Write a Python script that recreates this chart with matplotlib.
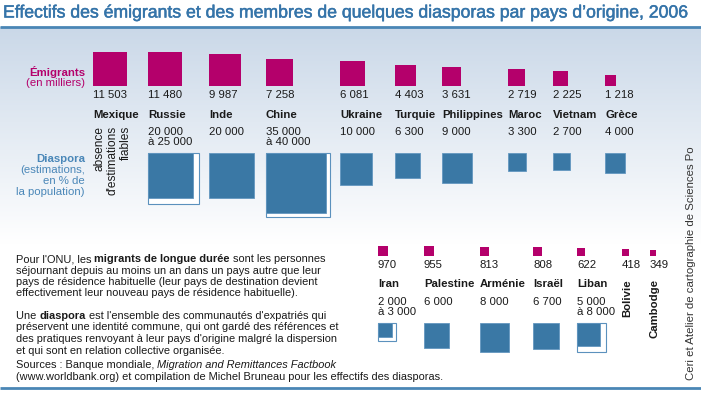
import numpy as np
import matplotlib
matplotlib.use("Agg")
import matplotlib.pyplot as plt
import matplotlib.patheffects as pe
from matplotlib.patches import Rectangle

plt.rcParams['font.family'] = ['Liberation Sans', 'DejaVu Sans']

# ---- data (thousands of people) ----
countries_top = ['Mexique', 'Russie', 'Inde', 'Chine', 'Ukraine', 'Turquie',
                 'Philippines', 'Maroc', 'Vietnam', 'Grèce']
emigrants_top = [11503, 11480, 9987, 7258, 6081, 4403, 3631, 2719, 2225, 1218]
diaspora_low_top = [None, 20000, 20000, 35000, 10000, 6300, 9000, 3300, 2700, 4000]
diaspora_high_top = [None, 25000, None, 40000, None, None, None, None, None, None]

countries_bottom = ['Iran', 'Palestine', 'Arménie', 'Israël', 'Liban', 'Bolivie', 'Cambodge']
emigrants_bottom = [970, 955, 813, 808, 622, 418, 349]
diaspora_low_bottom = [2000, 6000, 8000, 6700, 5000, None, None]
diaspora_high_bottom = [3000, None, None, None, 8000, None, None]

# ---- layout (pixels) ----
W, H = 701, 396
x_top = [93, 148, 209, 266, 340, 395, 442, 508, 553, 605]
x_bottom = [378, 424, 480, 533, 577, 622, 650]
K = 0.32  # px per sqrt(thousand)

MAGENTA = '#b4006b'
BLUE = '#3a78a5'
TITLE_BLUE = '#3574a9'
LABEL_BLUE = '#4a87b8'
TXT = '#1a1a1a'
FS = 8.2      # pt, labels
FS_BODY = 7.9


def fmt(v):
    return f"{v:,}".replace(',', ' ')


def side(v):
    return K * np.sqrt(v)


fig = plt.figure(figsize=(W / 100, H / 100), dpi=100)
ax = fig.add_axes([0, 0, 1, 1])
ax.set_xlim(0, W)
ax.set_ylim(H, 0)
ax.axis('off')

# background gradient
grad = np.linspace(0, 1, 200)[:, None]
top_c = np.array([0.792, 0.847, 0.910])
img = top_c[None, None, :] * (1 - grad[:, :, None]) + np.ones(3)[None, None, :] * grad[:, :, None]
ax.imshow(img, extent=(0, W, 245, 27), aspect='auto', zorder=0)

ax.text(3, 13, "Effectifs des émigrants et des membres de quelques diasporas par pays d\u2019origine, 2006",
        fontsize=12.7, color=TITLE_BLUE, va='center', ha='left',
        path_effects=[pe.withStroke(linewidth=0.35, foreground=TITLE_BLUE)])
ax.plot([0, W], [27, 27], color='#4a86b5', lw=2, solid_capstyle='butt')
ax.plot([0, W], [388, 388], color='#4a86b5', lw=2, solid_capstyle='butt')

# left labels
ax.text(85, 72, "Émigrants", color=MAGENTA, fontsize=FS, fontweight='bold', ha='right', va='center')
ax.text(85, 83, "(en milliers)", color=MAGENTA, fontsize=FS, ha='right', va='center')
for i, s in enumerate(["Diaspora", "(estimations,", "en % de", "la population)"]):
    ax.text(85, 159 + 11 * i, s, color=LABEL_BLUE, fontsize=FS,
            fontweight='bold' if i == 0 else 'normal', ha='right', va='center')


def draw_row(xs, names, emig, low, high, base_em, y_num, y_name, y_dia, y_sq, rotated_names=()):
    for x, name, e, lo, hi in zip(xs, names, emig, low, high):
        s = side(e)
        ax.add_patch(Rectangle((x, base_em - s), s, s, facecolor=MAGENTA, edgecolor='none'))
        ax.text(x, y_num, fmt(e), fontsize=FS, color=TXT, ha='left', va='center')
        if name in rotated_names:
            ax.text(x + 5, y_name - 5, name, fontsize=FS, fontweight='bold', color=TXT,
                    rotation=90, ha='center', va='top')
            continue
        ax.text(x, y_name, name, fontsize=FS, fontweight='bold', color=TXT, ha='left', va='center')
        if lo is None:
            continue
        label = fmt(lo) if hi is None else f"{fmt(lo)}\nà {fmt(hi)}"
        ax.text(x, y_dia, label, fontsize=FS, color=TXT, ha='left', va='top', linespacing=1.0)
        if hi is not None:
            sh = side(hi)
            ax.add_patch(Rectangle((x, y_sq), sh, sh, facecolor='white', edgecolor='#5b91bd', lw=0.8))
        sl = side(lo)
        ax.add_patch(Rectangle((x, y_sq), sl, sl, facecolor=BLUE, edgecolor='#6397c0', lw=0.6))


draw_row(x_top, countries_top, emigrants_top, diaspora_low_top, diaspora_high_top,
         86, 95, 115, 127, 153)
draw_row(x_bottom, countries_bottom, emigrants_bottom, diaspora_low_bottom, diaspora_high_bottom,
         256, 265, 284, 297, 323, rotated_names=('Bolivie', 'Cambodge'))

ax.text(112.5, 126, "absence\nd'estimations\nfiables", fontsize=8.6, color=TXT, rotation=90,
        ha='center', va='top', multialignment='right', linespacing=1.1)

ax.text(691, 380, "Ceri et Atelier de cartographie de Sciences Po", fontsize=8.2, color='#333333',
        rotation=90, ha='center', va='bottom')

# ---- body text with inline bold / italic runs ----
renderer = fig.canvas.get_renderer()


def advance(s, **kw):
    # advance width of s (spaces included), measured between two guard glyphs
    def w(txt):
        t = ax.text(0, 0, txt, fontsize=FS_BODY, **kw)
        out = t.get_window_extent(renderer).width
        t.remove()
        return out
    return w("x" + s + "x") - w("xx")


def draw_runs(x, y, runs):
    for s, kw in runs:
        ax.text(x, y, s, fontsize=FS_BODY, color=TXT, ha='left', va='baseline', **kw)
        x += advance(s, **kw)


N = {}
B = {'fontweight': 'bold'}
I = {'fontstyle': 'italic'}
body_lines = [
    (262, [("Pour l'ONU, les ", N), ("migrants de longue durée", B), (" sont les personnes", N)]),
    (273.5, [("séjournant depuis au moins un an dans un pays autre que leur", N)]),
    (285, [("pays de résidence habituelle (leur pays de destination devient", N)]),
    (296.5, [("effectivement leur nouveau pays de résidence habituelle).", N)]),
    (319, [("Une ", N), ("diaspora", B), (" est l'ensemble des communautés d'expatriés qui", N)]),
    (330.5, [("préservent une identité commune, qui ont gardé des références et", N)]),
    (342, [("des pratiques renvoyant à leur pays d'origine malgré la dispersion", N)]),
    (353.5, [("et qui sont en relation collective organisée.", N)]),
    (368, [("Sources : Banque mondiale, ", N), ("Migration and Remittances Factbook", I)]),
    (379.5, [("(www.worldbank.org) et compilation de Michel Bruneau pour les effectifs des diasporas.", N)]),
]
for y, runs in body_lines:
    draw_runs(16, y, runs)

fig.savefig('out.png', dpi=100)
